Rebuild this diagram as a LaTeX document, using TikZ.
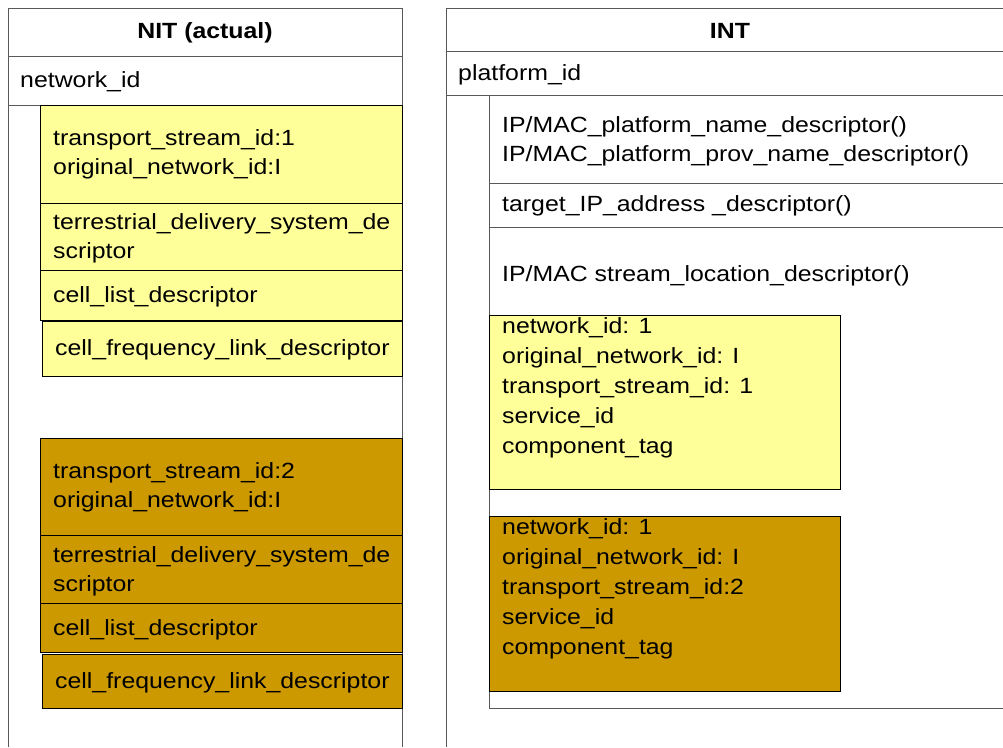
\documentclass[tikz,border=0pt]{standalone}
\usepackage{fontspec}
\setmainfont{Liberation Sans}[FakeStretch=1.13]
\definecolor{paleyellow}{HTML}{FFFF99}
\definecolor{ochre}{HTML}{CC9900}
\definecolor{frame}{gray}{0.35}
\tikzset{
  txt/.style={anchor=west, inner sep=0pt, align=left, font={\fontsize{22}{29}\selectfont}},
  txtfive/.style={anchor=west, inner sep=0pt, align=left, font={\fontsize{22}{29.9}\selectfont}},
  title/.style={inner sep=0pt, font={\fontsize{22}{28}\selectfont\bfseries}},
  outer/.style={draw=frame, line width=1pt},
  yel/.style={draw=black, fill=paleyellow, line width=1pt},
  brn/.style={draw=black, fill=ochre, line width=1pt},
  sep/.style={draw=black, line width=1pt}
}
\begin{document}
\begin{tikzpicture}[x=1pt,y=-1pt]
\useasboundingbox (0,0) rectangle (1003,747);
\clip (0,0) rectangle (1003,747);
% ---- NIT ----
\draw[outer] (8,747) -- (8,8) -- (402,8) -- (402,747);
\draw[outer] (8,56) -- (402,56);
\draw[outer] (8,105) -- (402,105);
\node[title] (nittitle) at (205,33) {NIT (actual)};
\node[txt] (netid) at (20,82) {network\_id};
% yellow group
\draw[yel] (40,105) rectangle (402,320);
\draw[sep] (40,203) -- (402,203);
\draw[sep] (40,270) -- (402,270);
\draw[yel] (42,321) rectangle (402,376);
\node[txt] (ya) at (53,154.5) {transport\_stream\_id:1\\original\_network\_id:I};
\node[txt] (yb) at (53,238.5) {terrestrial\_delivery\_system\_de\\scriptor};
\node[txt] (yc) at (53,297) {cell\_list\_descriptor};
\node[txt] (yd) at (55,350) {cell\_frequency\_link\_descriptor};
% brown group
\draw[brn] (40,438) rectangle (402,652);
\draw[sep] (40,535) -- (402,535);
\draw[sep] (40,603) -- (402,603);
\draw[brn] (42,654) rectangle (402,708);
\node[txt] (ba) at (53,487.5) {transport\_stream\_id:2\\original\_network\_id:I};
\node[txt] (bb) at (53,571.5) {terrestrial\_delivery\_system\_de\\scriptor};
\node[txt] (bc) at (53,630) {cell\_list\_descriptor};
\node[txt] (bd) at (55,683) {cell\_frequency\_link\_descriptor};
% ---- INT ----
\draw[outer] (446,747) -- (446,8) -- (1014,8) -- (1014,747);
\draw[outer] (446,51) -- (1014,51);
\draw[outer] (446,95) -- (1014,95);
\node[title] (inttitle) at (730,31) {INT};
\node[txt] (platid) at (458,75) {platform\_id};
\draw[outer] (489,95) -- (489,708) -- (1014,708);
\draw[outer] (489,183) -- (1014,183);
\draw[outer] (489,227) -- (1014,227);
\node[txt] (ipa) at (502,141.5) {IP/MAC\_platform\_name\_descriptor()\\IP/MAC\_platform\_prov\_name\_descriptor()};
\node[txt] (ipb) at (502,206) {target\_IP\_address \_descriptor()};
\node[txt] (ipc) at (502,276) {IP/MAC stream\_location\_descriptor()};
\draw[yel] (489,315) rectangle (840,489);
\node[txtfive] (ry) at (502,388) {network\_id: 1\\original\_network\_id: I\\transport\_stream\_id: 1\\service\_id\\component\_tag};
\draw[brn] (489,516) rectangle (840,691);
\node[txtfive] (rb) at (502,589) {network\_id: 1\\original\_network\_id: I\\transport\_stream\_id:2\\service\_id\\component\_tag};
\end{tikzpicture}
\end{document}
